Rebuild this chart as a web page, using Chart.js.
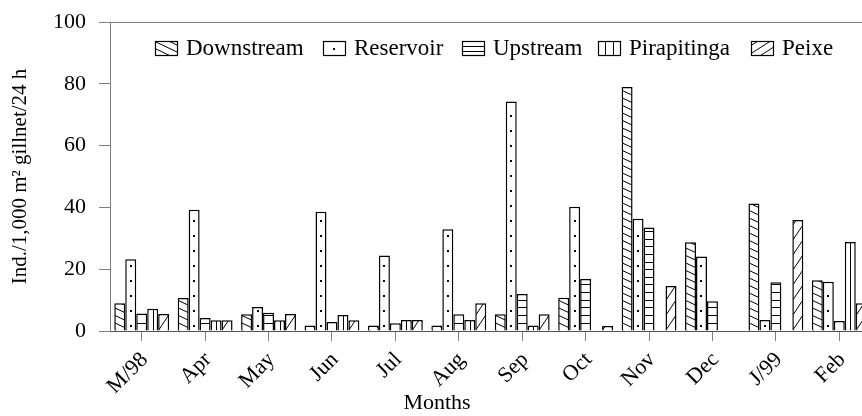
<!DOCTYPE html>
<html>
<head>
<meta charset="utf-8">
<script src="https://cdn.jsdelivr.net/npm/chart.js@4.4.1/dist/chart.umd.min.js"></script>
<style>
  html, body { margin: 0; padding: 0; background: #fff; overflow: hidden; }
  canvas { display: block; }
</style>
</head>
<body>
<canvas id="chart" width="880" height="416"></canvas>
<script>
// values (Ind./1,000 m2 gillnet/24 h)
const months = ['M/98', 'Apr', 'May', 'Jun', 'Jul', 'Aug', 'Sep', 'Oct', 'Nov', 'Dec', 'J/99', 'Feb'];
const downstream  = [9.0, 10.7, 5.4, 1.8, 1.8, 1.8, 5.4, 10.8, 79.0, 28.7, 41.3, 16.4];
const reservoir   = [23.2, 39.2, 7.8, 38.6, 24.4, 32.9, 74.3, 40.2, 36.3, 24.1, 3.6, 15.9];
const upstream    = [5.7, 4.2, 5.9, 2.9, 2.5, 5.4, 12.0, 16.8, 33.5, 9.6, 15.8, 3.2];
const pirapitinga = [7.2, 3.5, 3.5, 5.2, 3.6, 3.6, 1.8, null, null, null, null, 28.8];
const peixe       = [5.5, 3.5, 5.5, 3.5, 3.6, 9.0, 5.4, 1.6, 14.6, null, 35.9, 9.0];
const seriesNames = ['Downstream', 'Reservoir', 'Upstream', 'Pirapitinga', 'Peixe'];
const yTicks = [0, 20, 40, 60, 80, 100];

const FONT = "'Liberation Serif', 'Times New Roman', serif";
const AXIS_GREY = '#808080';

// fill patterns, each one paints inside the box l,t,r,b (already clipped)
function line(ctx, x1, y1, x2, y2) {
  ctx.moveTo(x1, y1);
  ctx.lineTo(x2, y2);
}
const painters = {
  back(ctx, l, t, r, b, legend) {      // "\\" hatch
    const drop = legend ? (b - t) * 0.75 : (r - l) * 0.47;
    const step = legend ? 7 : 7.5;
    for (let c = b + step; c > t - drop - step; c -= step) line(ctx, l, c, r, c + drop);
  },
  dots(ctx, l, t, r, b, legend) {
    const x = Math.round((l + r) / 2);
    if (legend) { ctx.fillRect(x - 1, Math.round((t + b) / 2) - 1, 2, 2); return; }
    for (let y = b - 4.5; y > t + 2; y -= 15) ctx.fillRect(x - 1, Math.round(y) - 1, 2, 2);
  },
  horiz(ctx, l, t, r, b, legend) {
    const step = legend ? (b - t) / 3 : 7.6;
    const first = legend ? step : 8;
    for (let y = b - first; y > t + 1; y -= step) {
      const yy = Math.round(y) + 0.5;
      line(ctx, l, yy, r, yy);
    }
  },
  vert(ctx, l, t, r, b, legend) {
    if (legend) {
      const w = (r - l) / 3;
      for (let i = 1; i < 3; i++) {
        const xx = Math.round(l + w * i) + 0.5;
        line(ctx, xx, t, xx, b);
      }
      return;
    }
    const xx = Math.round((l + r) / 2) + 0.5;
    line(ctx, xx, t, xx, b);
  },
  fwd(ctx, l, t, r, b, legend) {       // "/" hatch
    const rise = legend ? (b - t) : (r - l) * 1.5;
    const step = legend ? 8 : 15;
    for (let c = b + rise + step; c > t - step; c -= step) line(ctx, l, c, r, c - rise);
  }
};
const patternOf = ['back', 'dots', 'horiz', 'vert', 'fwd'];

function paint(ctx, name, l, t, r, b, legend) {
  ctx.save();
  ctx.beginPath();
  ctx.rect(l, t, r - l, b - t);
  ctx.clip();
  ctx.beginPath();
  ctx.strokeStyle = '#000';
  ctx.fillStyle = '#000';
  ctx.lineWidth = 1;
  painters[name](ctx, l, t, r, b, legend);
  ctx.stroke();
  ctx.restore();
}

const hatchPlugin = {
  id: 'hatch',
  afterDatasetsDraw(chart) {
    const ctx = chart.ctx;
    chart.data.datasets.forEach((ds, i) => {
      chart.getDatasetMeta(i).data.forEach((bar, j) => {
        if (ds.data[j] == null) return;
        const l = bar.x - bar.width / 2, r = bar.x + bar.width / 2;
        paint(ctx, patternOf[i], l + 0.75, bar.y + 0.75, r - 0.75, bar.base, false);
      });
    });
  }
};

// legend sits inside the plot frame, drawn from the dataset labels
const legendTextX = [186, 354, 493, 629, 782];
const legendPlugin = {
  id: 'boxLegend',
  afterDraw(chart) {
    const ctx = chart.ctx;
    ctx.save();
    ctx.font = '23px ' + FONT;
    ctx.textBaseline = 'alphabetic';
    ctx.fillStyle = '#000';
    chart.data.datasets.forEach((ds, i) => {
      const tx = legendTextX[i];
      const bx = tx - 31, by = 41.5, bw = 22, bh = 14;
      ctx.fillStyle = '#fff';
      ctx.fillRect(bx, by, bw, bh);
      paint(ctx, patternOf[i], bx, by, bx + bw, by + bh, true);
      ctx.strokeStyle = '#000';
      ctx.lineWidth = 1.2;
      ctx.strokeRect(bx + 0.5, by, bw, bh);
      ctx.fillStyle = '#000';
      ctx.fillText(ds.label, tx, 55);
    });
    // x axis title
    ctx.font = '22px ' + FONT;
    ctx.textAlign = 'center';
    ctx.fillText('Months', 437, 409);
    ctx.restore();
  }
};

const series = [downstream, reservoir, upstream, pirapitinga, peixe];

new Chart(document.getElementById('chart'), {
  type: 'bar',
  data: {
    labels: months,
    datasets: series.map((values, i) => ({
      label: seriesNames[i],
      data: values,
      backgroundColor: '#fff',
      borderColor: '#000',
      borderWidth: 1.5,
      borderSkipped: 'bottom',
      categoryPercentage: 0.865,
      barPercentage: 1
    }))
  },
  options: {
    responsive: false,
    animation: false,
    events: [],
    layout: { padding: { left: 0, top: 22, right: 9, bottom: 0 } },
    plugins: { legend: { display: false }, tooltip: { enabled: false } },
    scales: {
      x: {
        offset: true,
        afterFit(scale) { scale.height = 85; },
        grid: { offset: false, drawOnChartArea: false, tickLength: 10, color: AXIS_GREY },
        border: { color: '#555' },
        ticks: {
          autoSkip: false, minRotation: 45, maxRotation: 45,
          color: '#000', font: { family: FONT, size: 22 }, padding: 6, labelOffset: 3
        }
      },
      y: {
        min: 0, max: 100,
        afterFit(scale) { scale.width = 110; },
        afterBuildTicks(scale) { scale.ticks = yTicks.map(v => ({ value: v })); },
        grid: {
          color: c => (c.tick && c.tick.value === 100 ? AXIS_GREY : 'rgba(0,0,0,0)'),
          tickColor: AXIS_GREY, tickLength: 11
        },
        border: { color: AXIS_GREY },
        // small padding keeps the top of the plot at 100; the trailing space restores the label gap
        ticks: { color: '#000', font: { family: FONT, size: 22 }, padding: 7.5, callback: v => v + ' ' },
        title: {
          display: true, text: 'Ind./1,000 m² gillnet/24 h',
          color: '#000', font: { family: FONT, size: 21 }, padding: { top: 8, bottom: 0 }
        }
      }
    }
  },
  plugins: [hatchPlugin, legendPlugin]
});
</script>
</body>
</html>
